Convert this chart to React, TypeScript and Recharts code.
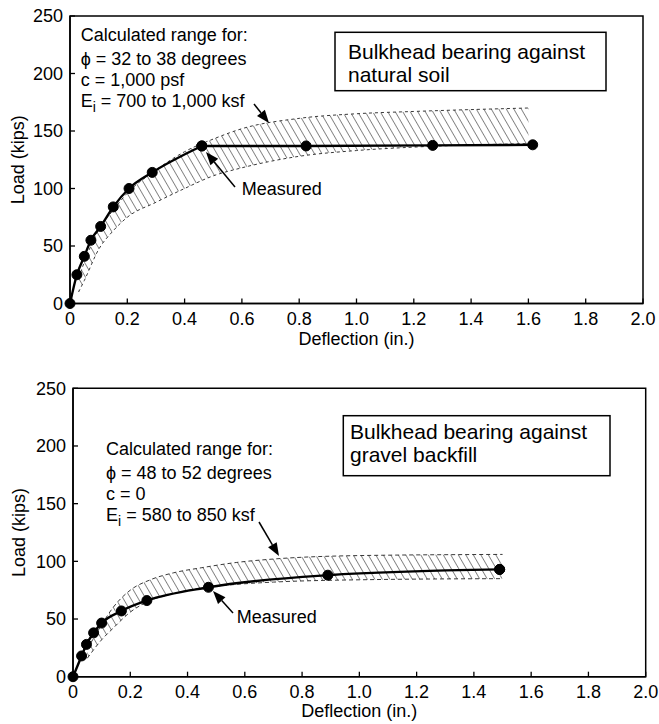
import React from 'react';
import { ComposedChart, Line, Area, XAxis, YAxis, ReferenceArea } from 'recharts';

// ---- shared axis ticks ----
const X_TICKS = [0, 0.2, 0.4, 0.6, 0.8, 1.0, 1.2, 1.4, 1.6, 1.8, 2.0];
const Y_TICKS = [0, 50, 100, 150, 200, 250];

// ---- top panel: bulkhead bearing against natural soil ----
const TOP_MEASURED_DEFLECTION = [0, 0.024, 0.05, 0.073, 0.107, 0.151, 0.206, 0.287, 0.46, 0.824, 1.266, 1.615];
const TOP_MEASURED_LOAD = [0, 25, 41, 55, 67, 84, 100, 114, 137, 137, 137.5, 138];
const TOP_PLATEAU_START = 8; // index where the measured curve turns into a straight plateau
const TOP_BAND_DEFLECTION = [0.03, 0.05, 0.1, 0.15, 0.2, 0.3, 0.4, 0.5, 0.6, 0.8, 1.0, 1.2, 1.6];
const TOP_BAND_LOW = [10, 20, 47, 63, 75, 88, 100, 111, 118, 128, 133, 136, 139];
const TOP_BAND_HIGH = [22, 36, 64, 81, 96, 116, 132, 143, 152, 161, 165, 167, 170];

// ---- bottom panel: bulkhead bearing against gravel backfill ----
const BOTTOM_MEASURED_DEFLECTION = [0, 0.03, 0.047, 0.072, 0.1, 0.169, 0.258, 0.473, 0.89, 1.49];
const BOTTOM_MEASURED_LOAD = [0, 18, 28, 38, 46.5, 57, 66, 77.5, 88, 93];
const BOTTOM_PLATEAU_START = 9;
const BOTTOM_BAND_DEFLECTION = [0.05, 0.1, 0.14, 0.2, 0.27, 0.35, 0.45, 0.57, 0.7, 1.0, 1.5];
const BOTTOM_BAND_LOW = [16, 32, 42, 56, 66, 72, 77, 80, 82, 84, 85];
const BOTTOM_BAND_HIGH = [24, 45, 60, 75, 84, 90, 94.5, 99, 102, 105, 106];

const FONT = '"Liberation Sans", Arial, Helvetica, sans-serif';

type Row = {
  x: number;
  rise: number | null;
  plateau: number | null;
  band: [number, number] | null;
};

function buildRows(
  mx: number[],
  my: number[],
  plateauStart: number,
  bx: number[],
  blo: number[],
  bhi: number[]
): Row[] {
  const map = new Map<number, any>();
  mx.forEach((x, i) => {
    const r = map.get(x) ?? { x };
    if (i <= plateauStart) r.rise = my[i];
    if (i >= plateauStart) r.plateau = my[i];
    map.set(x, r);
  });
  bx.forEach((x, i) => {
    const r = map.get(x) ?? { x };
    r.band = [blo[i], bhi[i]];
    map.set(x, r);
  });
  return Array.from(map.values())
    .sort((a, b) => a.x - b.x)
    .map((r) => ({
      x: r.x,
      rise: r.rise ?? null,
      plateau: r.plateau ?? null,
      band: r.band ?? null,
    }));
}

const TOP_ROWS = buildRows(
  TOP_MEASURED_DEFLECTION,
  TOP_MEASURED_LOAD,
  TOP_PLATEAU_START,
  TOP_BAND_DEFLECTION,
  TOP_BAND_LOW,
  TOP_BAND_HIGH
);
const BOTTOM_ROWS = buildRows(
  BOTTOM_MEASURED_DEFLECTION,
  BOTTOM_MEASURED_LOAD,
  BOTTOM_PLATEAU_START,
  BOTTOM_BAND_DEFLECTION,
  BOTTOM_BAND_LOW,
  BOTTOM_BAND_HIGH
);

const fmtX = (v: number) => (v === 0 ? '0' : v.toFixed(1));

const XTick = (props: any) => {
  const { x, y, payload } = props;
  return (
    <g>
      <line x1={x} y1={y} x2={x} y2={y - 5} stroke="#000" strokeWidth={1.3} />
      <text x={x} y={y + 21.5} textAnchor="middle" fontSize={18} fontFamily={FONT} fill="#000">
        {fmtX(payload.value)}
      </text>
    </g>
  );
};

const YTick = (props: any) => {
  const { x, y, payload } = props;
  return (
    <g>
      <line x1={x} y1={y} x2={x + 5} y2={y} stroke="#000" strokeWidth={1.3} />
      <text x={x - 7} y={y} dy="0.355em" textAnchor="end" fontSize={18} fontFamily={FONT} fill="#000">
        {payload.value}
      </text>
    </g>
  );
};

type PanelProps = {
  rows: Row[];
  height: number;
  marginTop: number;
  marginRight: number;
  yAxisWidth: number;
  xAxisHeight: number;
  hatchId: string;
  dashed: string;
};

const DOT = { r: 5, fill: '#000', stroke: '#000', strokeWidth: 1 };

const Panel = ({ rows, height, marginTop, marginRight, yAxisWidth, xAxisHeight, hatchId, dashed }: PanelProps) => (
  <ComposedChart
    width={659}
    height={height}
    data={rows}
    margin={{ top: marginTop, right: marginRight, bottom: 0, left: 0 }}
  >
    <XAxis
      type="number"
      dataKey="x"
      domain={[0, 2]}
      ticks={X_TICKS}
      interval={0}
      height={xAxisHeight}
      tickSize={0}
      tickMargin={0}
      tickLine={false}
      tick={<XTick />}
      axisLine={{ stroke: '#000', strokeWidth: 1.5 }}
    />
    <YAxis
      type="number"
      domain={[0, 250]}
      ticks={Y_TICKS}
      interval={0}
      width={yAxisWidth}
      tickSize={0}
      tickMargin={0}
      tickLine={false}
      tick={<YTick />}
      axisLine={{ stroke: '#000', strokeWidth: 1.5 }}
    />
    <ReferenceArea x1={0} x2={2} y1={0} y2={250} fill="none" stroke="#000" strokeWidth={1.5} />
    <Area
      type="monotone"
      dataKey="band"
      connectNulls
      fill={`url(#${hatchId})`}
      fillOpacity={1}
      stroke="#222"
      strokeWidth={0.9}
      strokeDasharray={dashed}
      isAnimationActive={false}
      dot={false}
      activeDot={false}
    />
    <Line
      type="linear"
      dataKey="plateau"
      connectNulls
      stroke="#000"
      strokeWidth={2.4}
      dot={DOT}
      activeDot={false}
      isAnimationActive={false}
    />
    <Line
      type="monotone"
      dataKey="rise"
      connectNulls
      stroke="#000"
      strokeWidth={2.4}
      dot={DOT}
      activeDot={false}
      isAnimationActive={false}
    />
  </ComposedChart>
);

const Arrow = ({ x1, y1, x2, y2 }: { x1: number; y1: number; x2: number; y2: number }) => {
  const dx = x2 - x1;
  const dy = y2 - y1;
  const len = Math.sqrt(dx * dx + dy * dy);
  const ux = dx / len;
  const uy = dy / len;
  const headLen = 13;
  const halfW = 5;
  const bx = x2 - ux * headLen;
  const by = y2 - uy * headLen;
  const px = -uy;
  const py = ux;
  return (
    <g>
      <line x1={x1} y1={y1} x2={bx} y2={by} stroke="#000" strokeWidth={1.5} />
      <polygon
        points={`${x2},${y2} ${bx + px * halfW},${by + py * halfW} ${bx - px * halfW},${by - py * halfW}`}
        fill="#000"
      />
    </g>
  );
};

const T = ({ x, y, children, size = 18, anchor = 'start' }: any) => (
  <text x={x} y={y} fontSize={size} fontFamily={FONT} fill="#000" textAnchor={anchor}>
    {children}
  </text>
);

const Ei = ({ x, y, rest }: { x: number; y: number; rest: string }) => (
  <text x={x} y={y} fontSize={18} fontFamily={FONT} fill="#000">
    E
    <tspan fontSize={14} dy={5}>
      i
    </tspan>
    <tspan dy={-5}>{rest}</tspan>
  </text>
);

export default function App() {
  return (
    <div style={{ position: 'absolute', left: 0, top: 0, width: 659, height: 724, background: '#fff' }}>
      <svg width={0} height={0} style={{ position: 'absolute' }}>
        <defs>
          <pattern id="hatchTop" patternUnits="userSpaceOnUse" width={6.5} height={6.5} patternTransform="rotate(-30)">
            <line x1={0} y1={0} x2={0} y2={6.5} stroke="#111" strokeWidth={1} />
          </pattern>
          <pattern id="hatchBottom" patternUnits="userSpaceOnUse" width={6.5} height={6.5} patternTransform="rotate(-30)">
            <line x1={0} y1={0} x2={0} y2={6.5} stroke="#111" strokeWidth={1} />
          </pattern>
        </defs>
      </svg>

      <div style={{ position: 'absolute', left: 0, top: 0 }}>
        <Panel
          rows={TOP_ROWS}
          height={350}
          marginTop={16}
          marginRight={16}
          yAxisWidth={70}
          xAxisHeight={46.5}
          hatchId="hatchTop"
          dashed="3 3"
        />
      </div>
      <div style={{ position: 'absolute', left: 0, top: 360 }}>
        <Panel
          rows={BOTTOM_ROWS}
          height={364}
          marginTop={28.3}
          marginRight={13.3}
          yAxisWidth={73}
          xAxisHeight={47.3}
          hatchId="hatchBottom"
          dashed="4 3"
        />
      </div>

      <svg
        width={659}
        height={724}
        style={{ position: 'absolute', left: 0, top: 0, pointerEvents: 'none' }}
      >
        {/* ---- top panel annotations ---- */}
        <text
          x={18.5}
          y={159.7}
          fontSize={18}
          fontFamily={FONT}
          textAnchor="middle"
          dominantBaseline="central"
          transform="rotate(-90 18.5 159.7)"
        >
          Load (kips)
        </text>
        <T x={356.5} y={345} anchor="middle">Deflection (in.)</T>
        <T x={80.7} y={40.5}>Calculated range for:</T>
        <T x={80.7} y={65}>ϕ = 32 to 38 degrees</T>
        <T x={80.7} y={86}>c = 1,000 psf</T>
        <Ei x={80.7} y={106.5} rest=" = 700 to 1,000 ksf" />
        <Arrow x1={254} y1={104} x2={269} y2={123} />
        <Arrow x1={235} y1={187} x2={206} y2={152} />
        <T x={241.7} y={195}>Measured</T>
        <rect x={335} y={32.3} width={271} height={58.4} fill="#fff" stroke="#000" strokeWidth={1.5} />
        <T x={348} y={59} size={21}>Bulkhead bearing against</T>
        <T x={348} y={82} size={21}>natural soil</T>

        {/* ---- bottom panel annotations ---- */}
        <text
          x={18.5}
          y={532.5}
          fontSize={18}
          fontFamily={FONT}
          textAnchor="middle"
          dominantBaseline="central"
          transform="rotate(-90 18.5 532.5)"
        >
          Load (kips)
        </text>
        <T x={359.3} y={717} anchor="middle">Deflection (in.)</T>
        <T x={106} y={455}>Calculated range for:</T>
        <T x={106} y={479}>ϕ = 48 to 52 degrees</T>
        <T x={106} y={500}>c = 0</T>
        <Ei x={106} y={520.7} rest=" = 580 to 850 ksf" />
        <Arrow x1={259} y1={522} x2={279} y2={556} />
        <Arrow x1={233} y1={613} x2={213} y2={591} />
        <T x={236.7} y={623}>Measured</T>
        <rect x={343.3} y={415.7} width={266.7} height={60} fill="#fff" stroke="#000" strokeWidth={1.5} />
        <T x={350} y={439} size={21}>Bulkhead bearing against</T>
        <T x={350} y={462} size={21}>gravel backfill</T>
      </svg>
    </div>
  );
}
